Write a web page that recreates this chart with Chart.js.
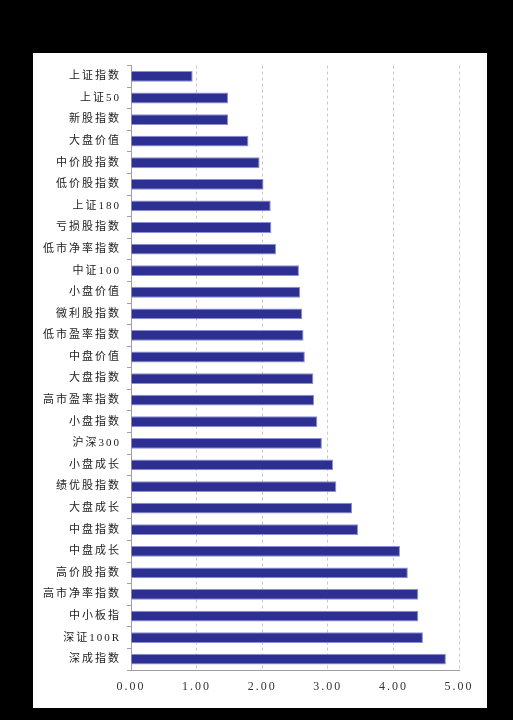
<!DOCTYPE html>
<html>
<head>
<meta charset="utf-8">
<script src="https://cdn.jsdelivr.net/npm/chart.js@4"></script>
<style>
  html, body { margin: 0; padding: 0; background: #000; }
  #panel {
    position: absolute;
    left: 33px;
    top: 53px;
    width: 454px;
    height: 655px;
    background: #fff;
  }
</style>
</head>
<body>
<div id="panel"><canvas id="chart"></canvas></div>
<script>
// index names, top to bottom
const labels = [
  "上证指数", "上证50", "新股指数", "大盘价值", "中价股指数", "低价股指数",
  "上证180", "亏损股指数", "低市净率指数", "中证100", "小盘价值", "微利股指数",
  "低市盈率指数", "中盘价值", "大盘指数", "高市盈率指数", "小盘指数", "沪深300",
  "小盘成长", "绩优股指数", "大盘成长", "中盘指数", "中盘成长", "高价股指数",
  "高市净率指数", "中小板指", "深证100R", "深成指数"
];
const values = [
  0.94, 1.48, 1.48, 1.79, 1.96, 2.02,
  2.13, 2.14, 2.21, 2.56, 2.58, 2.61,
  2.63, 2.65, 2.78, 2.79, 2.84, 2.91,
  3.08, 3.13, 3.37, 3.46, 4.10, 4.22,
  4.38, 4.38, 4.45, 4.80
];
const xMin = 0;
const xMax = 5;

// canvas letterSpacing gets reset whenever the canvas resizes
const spacing = {
  id: "spacing",
  beforeUpdate(chart) { chart.ctx.letterSpacing = "2px"; },
  beforeDraw(chart) { chart.ctx.letterSpacing = "2px"; },
};

new Chart(document.getElementById("chart"), {
  type: "bar",
  data: {
    labels: labels,
    datasets: [
      {
        data: values,
        backgroundColor: "#2d2f92",
        borderColor: "#8a8fd8",
        borderWidth: 1,
        barPercentage: 0.5,
        categoryPercentage: 1,
      },
    ],
  },
  options: {
    indexAxis: "y",
    responsive: true,
    maintainAspectRatio: false,
    animation: false,
    layout: { padding: { left: 0, right: 28, top: 12, bottom: 0 } },
    plugins: {
      legend: { display: false },
      tooltip: { enabled: false },
    },
    scales: {
      x: {
        min: xMin,
        max: xMax,
        ticks: {
          stepSize: 1,
          padding: 10,
          color: "#333",
          font: { family: "'Liberation Serif', serif", size: 12 },
          callback: (v) => Number(v).toFixed(2),
        },
        grid: {
          color: "#c8c8c8",
          lineWidth: 1,
          drawTicks: false,
        },
        border: { display: true, color: "#a0a0a0", dash: [3, 3] },
        afterFit: (s) => { s.height = 38; },
      },
      y: {
        ticks: {
          padding: 6,
          color: "#222",
          font: { family: "'Liberation Serif', 'Noto Sans CJK SC', serif", size: 11 },
        },
        grid: {
          drawOnChartArea: false,
          drawTicks: true,
          tickLength: 4,
          color: "#a0a0a0",
        },
        border: { display: true, color: "#a0a0a0" },
        afterFit: (s) => { s.width = 98; },
      },
    },
  },
  plugins: [spacing],
});
</script>
</body>
</html>
